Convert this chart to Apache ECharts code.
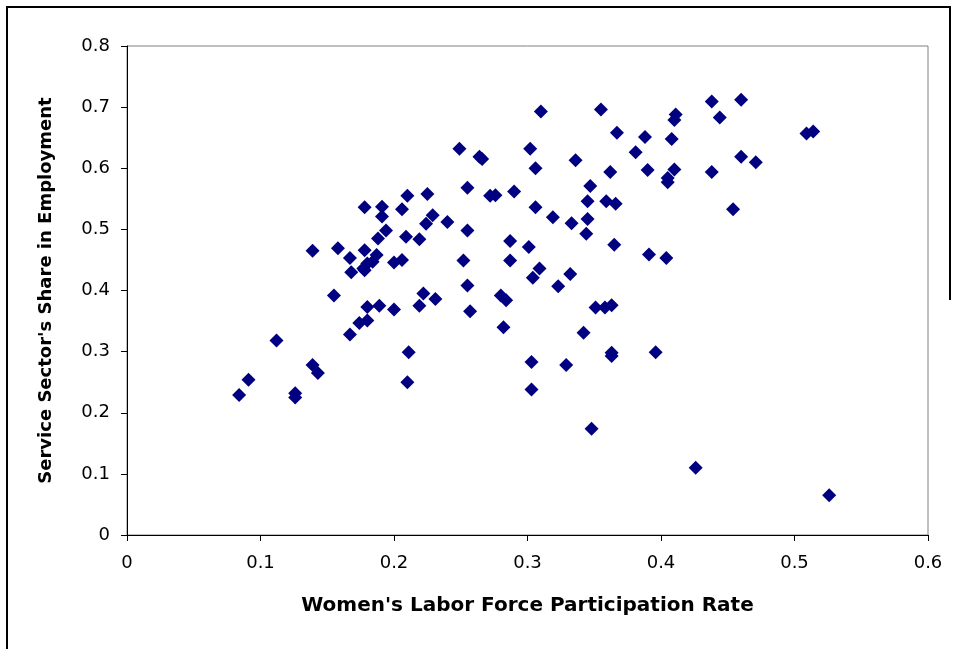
<!DOCTYPE html>
<html>
<head>
<meta charset="utf-8">
<script src="https://cdn.jsdelivr.net/npm/echarts@6/dist/echarts.min.js"></script>
<style>
html,body{margin:0;padding:0;background:#fff;}
#chart{width:955px;height:649px;}
</style>
</head>
<body>
<div id="chart"></div>
<script>
// Women's labor force participation rate (x) and service sector share (y)
const participation = [
  0.084,0.091,0.112,0.126,0.126,0.139,0.143,0.139,0.155,0.158,
  0.167,0.167,0.168,0.174,0.178,0.177,0.178,0.178,0.180,0.180,
  0.180,0.184,0.187,0.188,0.189,0.191,0.191,0.194,0.200,0.200,
  0.206,0.206,0.209,0.210,0.210,0.211,0.219,0.219,0.222,0.224,
  0.225,0.229,0.231,0.240,0.249,0.252,0.255,0.255,0.255,0.257,
  0.264,0.266,0.272,0.276,0.280,0.284,0.282,0.287,0.287,0.290,
  0.302,0.301,0.303,0.303,0.304,0.306,0.306,0.309,0.310,0.319,
  0.323,0.329,0.333,0.332,0.336,0.342,0.344,0.345,0.345,0.347,
  0.348,0.351,0.355,0.358,0.359,0.363,0.363,0.363,0.362,0.365,
  0.366,0.367,0.381,0.388,0.390,0.391,0.396,0.404,0.405,0.405,
  0.408,0.410,0.410,0.411,0.426,0.438,0.438,0.444,0.454,0.460,
  0.460,0.471,0.509,0.514,0.526
];
const serviceShare = [
  0.229,0.254,0.318,0.232,0.225,0.278,0.265,0.465,0.392,0.469,
  0.328,0.453,0.430,0.347,0.536,0.436,0.433,0.466,0.373,0.351,
  0.444,0.447,0.458,0.485,0.375,0.537,0.521,0.498,0.446,0.369,
  0.533,0.450,0.488,0.555,0.250,0.299,0.375,0.484,0.395,0.509,
  0.558,0.523,0.386,0.512,0.632,0.449,0.568,0.498,0.408,0.366,
  0.619,0.615,0.555,0.556,0.392,0.384,0.340,0.481,0.449,0.562,
  0.632,0.471,0.283,0.238,0.421,0.600,0.536,0.436,0.693,0.520,
  0.407,0.278,0.510,0.427,0.613,0.331,0.493,0.546,0.517,0.571,
  0.174,0.372,0.696,0.372,0.546,0.376,0.298,0.293,0.594,0.475,
  0.542,0.658,0.626,0.651,0.597,0.459,0.299,0.453,0.577,0.584,
  0.648,0.598,0.679,0.688,0.110,0.709,0.594,0.683,0.533,0.712,
  0.619,0.610,0.657,0.660,0.065
];
const xTicks = ['0','0.1','0.2','0.3','0.4','0.5','0.6'];
const yTicks = ['0','0.1','0.2','0.3','0.4','0.5','0.6','0.7','0.8'];
const xTitle = "Women's Labor Force Participation Rate";
const yTitle = "Service Sector's Share in Employment";

const points = participation.map((v, i) => [v, serviceShare[i]]);

const chart = echarts.init(document.getElementById('chart'), null, {renderer: 'canvas'});
const labelFont = {fontFamily: 'DejaVu Sans', fontSize: 18, color: '#000'};

chart.setOption({
  backgroundColor: '#fff',
  animation: false,
  grid: {left: 127, right: 27, top: 46, bottom: 114, show: true, borderColor: '#808080', borderWidth: 1, backgroundColor: 'transparent'},
  xAxis: {
    type: 'value', min: 0, max: 0.6, interval: 0.1,
    name: xTitle, nameLocation: 'middle', nameGap: 61,
    nameTextStyle: {fontFamily: 'DejaVu Sans', fontSize: 20, fontWeight: 'bold', color: '#000'},
    axisLine: {show: true, lineStyle: {color: '#000', width: 1}},
    axisTick: {show: true, inside: false, length: 6, lineStyle: {color: '#000'}},
    splitLine: {show: false},
    axisLabel: Object.assign({margin: 19, formatter: (v) => xTicks[Math.round(v * 10)]}, labelFont)
  },
  yAxis: {
    type: 'value', min: 0, max: 0.8, interval: 0.1,
    name: yTitle, nameLocation: 'middle', nameGap: 72,
    nameTextStyle: {fontFamily: 'DejaVu Sans', fontSize: 18, fontWeight: 'bold', color: '#000'},
    axisLine: {show: true, lineStyle: {color: '#000', width: 1}},
    axisTick: {show: true, inside: false, length: 6, lineStyle: {color: '#000'}},
    splitLine: {show: false},
    axisLabel: Object.assign({margin: 17, formatter: (v) => yTicks[Math.round(v * 10)]}, labelFont)
  },
  graphic: [
    {type: 'polyline', silent: true, shape: {points: [[7, 649], [7, 7], [950, 7], [950, 300]]},
     style: {stroke: '#000', lineWidth: 2, fill: null}}
  ],
  series: [{
    type: 'scatter',
    data: points,
    symbol: 'diamond',
    symbolSize: 14,
    itemStyle: {color: '#000080', opacity: 1},
    emphasis: {disabled: true}
  }]
});
</script>
</body>
</html>
